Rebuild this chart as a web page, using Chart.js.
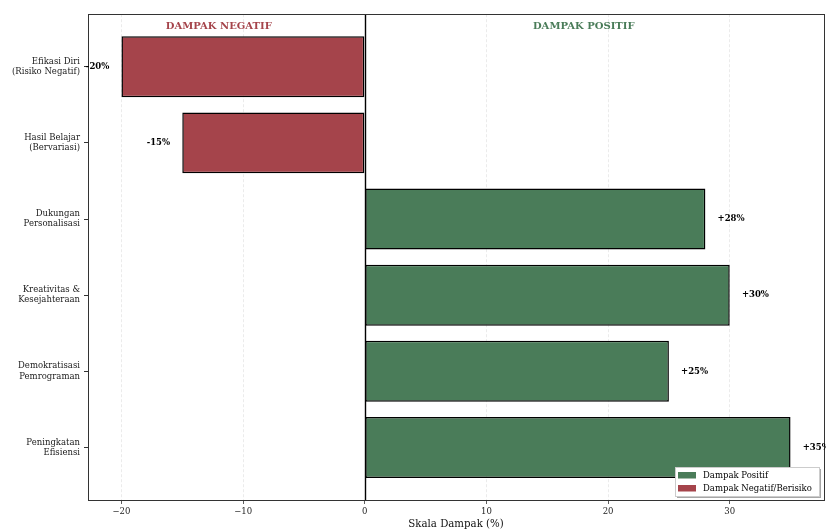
<!DOCTYPE html>
<html>
<head>
<meta charset="utf-8">
<script src="https://cdn.jsdelivr.net/npm/chart.js@4.4.1/dist/chart.umd.min.js"></script>
<style>
  html, body { margin: 0; padding: 0; background: #fff; }
  #wrap { width: 826px; height: 531px; position: relative; }
</style>
</head>
<body>
<div id="wrap"><canvas id="impactChart"></canvas></div>
<script>
// chart data
const categories = [
    'Efikasi Diri\n(Risiko Negatif)',
    'Hasil Belajar\n(Bervariasi)',
    'Dukungan\nPersonalisasi',
    'Kreativitas &\nKesejahteraan',
    'Demokratisasi\nPemrograman',
    'Peningkatan\nEfisiensi'
];
const impactValues = [-20, -15, 28, 30, 25, 35];
const xTicks = [-20, -10, 0, 10, 20, 30];
const sectionLabels = ['DAMPAK NEGATIF', 'DAMPAK POSITIF'];
const sectionX = [-12, 18];
const legendLabels = ['Dampak Positif', 'Dampak Negatif/Berisiko'];

const RED = '#a5444b';
const GREEN = '#4a7c59';
const SERIF = '"DejaVu Serif", serif';

// extras drawn on top: zero line, frame, section headers, value labels, legend
const overlayPlugin = {
    id: 'overlay',
    afterDatasetsDraw(chart) {
        const { ctx, chartArea: a, scales: { x, y } } = chart;
        ctx.save();

        // zero line
        const x0 = Math.round(x.getPixelForValue(0)) + 0.5;
        ctx.strokeStyle = '#000';
        ctx.lineWidth = 1.4;
        ctx.beginPath();
        ctx.moveTo(x0, a.top);
        ctx.lineTo(x0, a.bottom);
        ctx.stroke();

        // frame
        ctx.strokeStyle = '#333';
        ctx.lineWidth = 1;
        ctx.strokeRect(Math.round(a.left) + 0.5, Math.round(a.top) + 0.5,
            Math.round(a.right - a.left), Math.round(a.bottom - a.top));

        // section headers
        ctx.font = 'bold 10px ' + SERIF;
        ctx.textAlign = 'center';
        ctx.textBaseline = 'middle';
        sectionLabels.forEach((t, i) => {
            ctx.fillStyle = i === 0 ? RED : GREEN;
            ctx.fillText(t, x.getPixelForValue(sectionX[i]), y.getPixelForValue(-0.53));
        });

        // value labels
        ctx.font = 'bold 8.5px ' + SERIF;
        ctx.fillStyle = '#000';
        impactValues.forEach((v, i) => {
            const py = y.getPixelForValue(i);
            if (v < 0) {
                ctx.textAlign = 'right';
                ctx.fillText(v + '%', x.getPixelForValue(v - 1), py);
            } else {
                ctx.textAlign = 'left';
                ctx.fillText('+' + v + '%', x.getPixelForValue(v + 1), py);
            }
        });

        // legend (lower right)
        const lw = 144, lh = 29;
        const lx = a.right - 5 - lw, ly = a.bottom - 4 - lh;
        ctx.fillStyle = 'rgba(0,0,0,0.35)';
        ctx.fillRect(lx + 2, ly + 2, lw, lh);
        ctx.fillStyle = '#fff';
        ctx.fillRect(lx, ly, lw, lh);
        ctx.strokeStyle = '#cccccc';
        ctx.strokeRect(lx + 0.5, ly + 0.5, lw, lh);
        ctx.font = '8.5px ' + SERIF;
        ctx.textAlign = 'left';
        legendLabels.forEach((t, i) => {
            const cy = ly + 8 + i * 13;
            ctx.fillStyle = i === 0 ? GREEN : RED;
            ctx.fillRect(lx + 3, cy - 3, 18, 6.5);
            ctx.fillStyle = '#000';
            ctx.fillText(t, lx + 28, cy + 0.5);
        });

        ctx.restore();
    }
};

new Chart(document.getElementById('impactChart'), {
    type: 'bar',
    data: {
        datasets: [{
            data: impactValues.map((v, i) => ({ x: v, y: i })),
            backgroundColor: impactValues.map(v => v < 0 ? RED : GREEN),
            borderColor: '#000',
            borderWidth: 1.5,
            borderSkipped: false,
            barPercentage: 0.8,
            categoryPercentage: 1.0
        }]
    },
    options: {
        indexAxis: 'y',
        responsive: true,
        maintainAspectRatio: false,
        animation: false,
        layout: { padding: { top: 14, right: 2, left: 0, bottom: 0 } },
        plugins: {
            legend: { display: false },
            tooltip: { enabled: false }
        },
        scales: {
            x: {
                type: 'linear',
                min: -22.75,
                max: 37.75,
                afterBuildTicks: axis => { axis.ticks = xTicks.map(v => ({ value: v })); },
                afterFit: axis => { axis.height = 31; },
                grid: {
                    color: ctx => (ctx.tick && ctx.tick.value === 0) ? 'rgba(0,0,0,0)' : '#e6e6e6',
                    lineWidth: 0.8,
                    tickColor: '#333',
                    tickLength: 4
                },
                border: { display: false, dash: [3, 2] },
                ticks: {
                    padding: 3,
                    color: '#222',
                    font: { family: SERIF, size: 8.5 },
                    callback: v => v < 0 ? '\u2212' + Math.abs(v) : String(v)
                },
                title: {
                    display: true,
                    text: 'Skala Dampak (%)',
                    color: '#111',
                    font: { family: SERIF, size: 10.2 },
                    padding: { top: 0, bottom: 1 }
                }
            },
            y: {
                type: 'linear',
                reverse: true,
                offset: false,
                min: -0.69,
                max: 5.69,
                afterBuildTicks: axis => { axis.ticks = categories.map((c, i) => ({ value: i })); },
                afterFit: axis => { axis.width = 88; },
                grid: {
                    offset: false,
                    drawOnChartArea: false,
                    color: '#333',
                    tickColor: '#333',
                    tickLength: 4
                },
                border: { display: false },
                ticks: {
                    padding: 4,
                    color: '#222',
                    font: { family: SERIF, size: 8.5, lineHeight: 1.2 },
                    callback: v => categories[v] !== undefined ? categories[v].split('\n') : ''
                }
            }
        }
    },
    plugins: [overlayPlugin]
});
</script>
</body>
</html>
